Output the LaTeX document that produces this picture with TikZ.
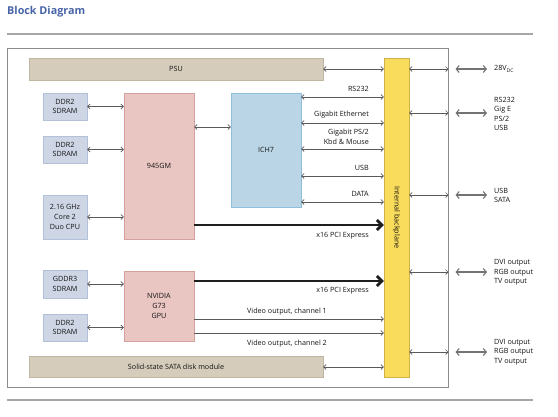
\documentclass[tikz,border=0pt]{standalone}
\usepackage{fontspec}
\setmainfont{Open Sans}
\usetikzlibrary{positioning,calc,arrows.meta}
\definecolor{T}{RGB}{72,100,168}
\definecolor{M}{RGB}{206,214,230}
\definecolor{Mb}{RGB}{178,192,216}
\definecolor{C}{RGB}{234,198,194}
\definecolor{Cb}{RGB}{214,160,156}
\definecolor{H}{RGB}{186,214,230}
\definecolor{Hb}{RGB}{142,190,220}
\definecolor{P}{RGB}{213,204,187}
\definecolor{Pb}{RGB}{192,182,162}
\definecolor{Y}{RGB}{250,220,92}
\definecolor{Yb}{RGB}{204,178,72}
\tikzstyle{mem} = [rectangle,
minimum width=44pt,
minimum height=27pt,
inner sep=0pt,
align=center,
fill=M, draw=Mb]
\tikzstyle{chip} = [rectangle,
minimum width=70pt,
inner sep=0pt,
align=center,
fill=C, draw=Cb]
\tikzstyle{hub} = [rectangle,
minimum width=70pt,
minimum height=114pt,
fill=H, draw=Hb]
\tikzstyle{bar} = [rectangle,
minimum width=294pt,
minimum height=22pt,
fill=P, draw=Pb]
\tikzstyle{plane} = [rectangle,
minimum width=25pt,
minimum height=319pt,
fill=Y, draw=Yb]
\tikzstyle{lbl} = [inner sep=0pt, align=left]
\tikzstyle{arrow} = [{Straight Barb[length=2.5pt,width=5pt]}-{Straight Barb[length=2.5pt,width=5pt]}, draw=black!65, line width=0.7pt]
\tikzstyle{oneway} = [-{Straight Barb[length=2.5pt,width=5pt]}, draw=black!65, line width=0.7pt]
\tikzstyle{pcie} = [-{Straight Barb[length=5pt,width=10pt]}, draw=black!88, line width=2.8pt]
\tikzstyle{ext} = [{Straight Barb[length=3pt,width=7pt]}-{Straight Barb[length=3pt,width=7pt]}, draw=black!55, line width=1.1pt]
\tikzstyle{rule} = [draw=black!35, line width=1.4pt]

\begin{document}
\begin{tikzpicture}[x=1pt, y=-1pt, every node/.style={font=\fontsize{7.2}{9.6}\selectfont, text=black!92}]
      \useasboundingbox (0,0) rectangle (558,416);
      \node (title) [anchor=west, inner sep=0pt, font=\bfseries\fontsize{10.8}{12}\selectfont, text=T] at (7,12) {Block Diagram};
      \draw [rule] (7,34) -- (533,34);
      \draw [rule] (7,400) -- (533,400);
      \node (frame) [draw=black!45, line width=1pt, minimum width=441pt, minimum height=339pt] at (227.5,217.5) {};
      % bars and backplane
      \node (psu) [bar] at (176,69) {PSU};
      \node (ssd) [bar, minimum height=21pt] at (176,366.5) {Solid-state SATA disk module};
      \node (bp) [plane] at (396.5,217.5) {};
      \node (bptext) [rotate=-90] at (bp) {Internal backplane};
      % memory and chips
      \node (ddrA) [mem] at (65,106.5) {DDR2\\SDRAM};
      \node (ddrB) [mem] at (65,149.5) {DDR2\\SDRAM};
      \node (cpu) [mem, minimum height=44pt] at (65,217) {2.16 GHz\\Core 2\\Duo CPU};
      \node (gddr) [mem, minimum height=28pt] at (65,284) {GDDR3\\SDRAM};
      \node (ddrC) [mem] at (65,327.5) {DDR2\\SDRAM};
      \node (gmch) [chip, minimum height=146pt] at (159,166) {945GM};
      \node (gpu) [chip, minimum height=70pt] at (159,306) {NVIDIA\\G73\\GPU};
      \node (ich) [hub] at (266,150) {ICH7};
      \draw [arrow] (ddrA.east) -- (ddrA.east -| gmch.west);
      \draw [arrow] (ddrB.east) -- (ddrB.east -| gmch.west);
      \draw [arrow] (cpu.east) -- (cpu.east -| gmch.west);
      \draw [arrow] (gddr.east) -- (gddr.east -| gpu.west);
      \draw [arrow] (ddrC.east) -- (ddrC.east -| gpu.west);
      \draw [arrow] (gmch.east |- 0,127) -- (ich.west |- 0,127);
      % links to the backplane
      \draw [arrow] (psu.east) -- (bp.west |- psu.east);
      \draw [arrow] (ich.east |- 0,97) -- (bp.west |- 0,97);
      \draw [arrow] (ich.east |- 0,123) -- (bp.west |- 0,123);
      \draw [arrow] (ich.east |- 0,149) -- (bp.west |- 0,149);
      \draw [arrow] (ich.east |- 0,176) -- (bp.west |- 0,176);
      \draw [arrow] (ich.east |- 0,202) -- (bp.west |- 0,202);
      \draw [pcie] (gmch.east |- 0,225) -- (bp.west |- 0,225);
      \draw [pcie] (gpu.east |- 0,281) -- (bp.west |- 0,281);
      \draw [oneway] (gpu.east |- 0,319) -- (bp.west |- 0,319);
      \draw [oneway] (gpu.east |- 0,333) -- (bp.west |- 0,333);
      \draw [arrow] (ssd.east |- 0,367) -- (bp.west |- 0,367);
      \node (lrs) [lbl, anchor=east] at (369,89) {RS232};
      \node (lgbe) [lbl, anchor=east] at (369,115) {Gigabit Ethernet};
      \node (lps) [lbl, anchor=east, align=right] at (369,137) {Gigabit PS/2\\Kbd \& Mouse};
      \node (lusb) [lbl, anchor=east] at (369,167.5) {USB};
      \node (ldata) [lbl, anchor=east] at (369,194) {DATA};
      \node (lpcia) [lbl, anchor=east] at (369,236) {x16 PCI Express};
      \node (lpcib) [lbl, anchor=east] at (369,291) {x16 PCI Express};
      \node (lvida) [lbl] at (287,311.5) {Video output, channel 1};
      \node (lvidb) [lbl] at (287,343.5) {Video output, channel 2};
      % external connections
      \node (opwr) [lbl, anchor=west] at (494,69) {28V\textsubscript{DC}};
      \node (oio) [lbl, anchor=west] at (494,114) {RS232\\Gig E\\PS/2\\USB};
      \node (osata) [lbl, anchor=west] at (494,195.5) {USB\\SATA};
      \node (ovida) [lbl, anchor=west] at (494,272.5) {DVI output\\RGB output\\TV output};
      \node (ovidb) [lbl, anchor=west] at (494,352) {DVI output\\RGB output\\TV output};
      \foreach \o/\y in {opwr/69, oio/113, osata/195, ovida/272, ovidb/352} {
        \draw [arrow] (bp.east |- 0,\y) -- (frame.east |- 0,\y);
        \draw [ext] ($(frame.east |- 0,\y)+(7,0)$) -- ($(\o.west |- 0,\y)+(-7,0)$);
      }
\end{tikzpicture}
\end{document}
